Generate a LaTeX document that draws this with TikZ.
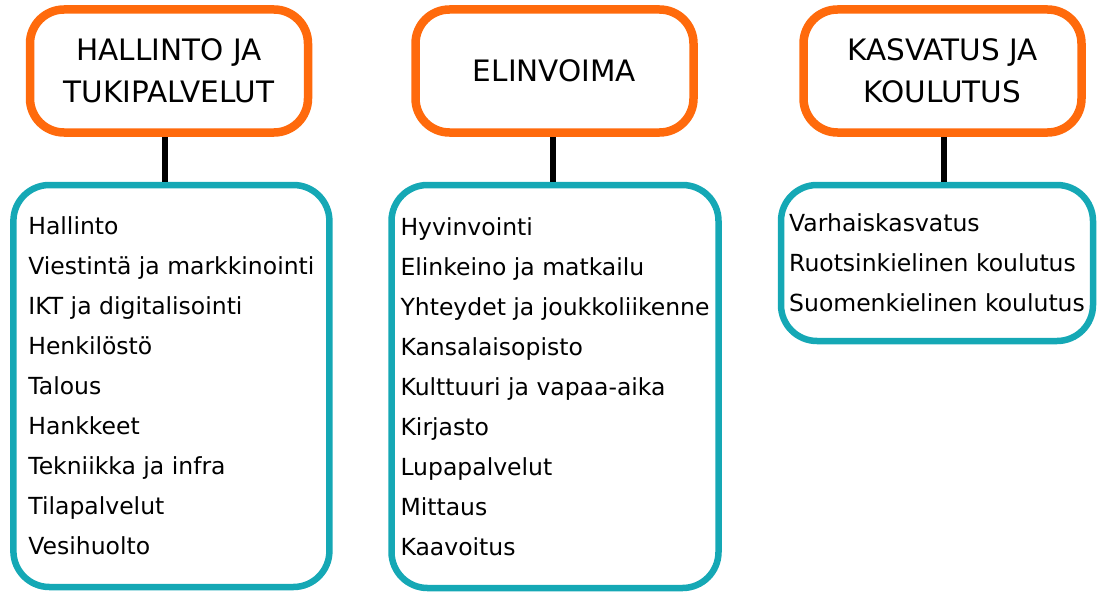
\documentclass[tikz,border=0pt]{standalone}
\usepackage{fontspec}
\setmainfont{DejaVu Sans}
\usepackage{xcolor}
\usetikzlibrary{positioning}

\definecolor{headorange}{HTML}{FF6A0C}
\definecolor{listteal}{HTML}{15A8B5}

\begin{document}
\begin{tikzpicture}[
  x=1pt, y=-1pt,
  head/.style={draw=headorange, line width=8.5pt, rounded corners=34pt,
               minimum width=278pt, minimum height=123pt, align=center,
               font=\fontsize{29.5}{42}\selectfont},
  itemlist/.style={draw=listteal, line width=6.5pt, rounded corners=36pt,
                   align=left, font=\fontsize{23.5}{40}\selectfont},
  link/.style={line width=6pt},
]
\useasboundingbox (0,0) rectangle (1099,594);

\node[head] (hallinto) at (169,71) {HALLINTO JA\\TUKIPALVELUT};
\node[head] (elinvoima) at (554.5,71) {ELINVOIMA};
\node[head] (kasvatus) at (942.5,71) {KASVATUS JA\\KOULUTUS};

\node[itemlist, minimum width=316pt, minimum height=402pt] (hallintolist)
  at (171.4,386) {Hallinto\\Viestintä ja markkinointi\\IKT ja digitalisointi\\
  Henkilöstö\\Talous\\Hankkeet\\Tekniikka ja infra\\Tilapalvelut\\Vesihuolto};
\node[itemlist, minimum width=327pt, minimum height=403pt] (elinvoimalist)
  at (555,386.5) {Hyvinvointi\\Elinkeino ja matkailu\\Yhteydet ja joukkoliikenne\\
  Kansalaisopisto\\Kulttuuri ja vapaa-aika\\Kirjasto\\Lupapalvelut\\Mittaus\\Kaavoitus};
\node[itemlist, minimum width=312pt, minimum height=156pt] (kasvatuslist)
  at (937,263) {Varhaiskasvatus\\Ruotsinkielinen koulutus\\Suomenkielinen koulutus};

\draw[link] ([xshift=-4pt]hallinto.south) -- ([xshift=-4pt]hallinto.south |- hallintolist.north);
\draw[link] ([xshift=-1.5pt]elinvoima.south) -- ([xshift=-1.5pt]elinvoima.south |- elinvoimalist.north);
\draw[link] ([xshift=1.5pt]kasvatus.south) -- ([xshift=1.5pt]kasvatus.south |- kasvatuslist.north);

\end{tikzpicture}
\end{document}
